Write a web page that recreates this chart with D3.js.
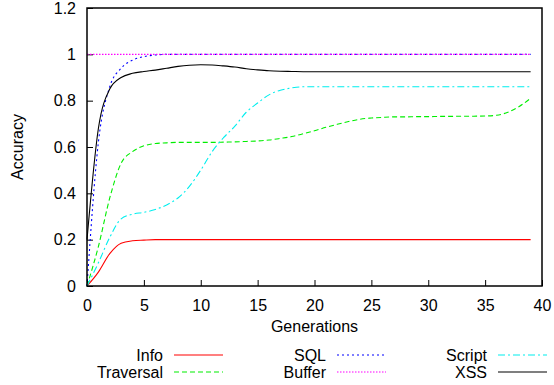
<!DOCTYPE html>
<html>
<head>
<meta charset="utf-8">
<script src="https://cdn.jsdelivr.net/npm/d3@7"></script>
<style>
  body { margin: 0; background: #fff; }
  text { font-family: "Liberation Sans", Arial, sans-serif; font-size: 16px; fill: #000; }
</style>
</head>
<body>
<div id="chart"></div>
<script>
(function() {
    "use strict";

    // generations 0..39
    var generations = d3.range(0, 40);

    var info = [0, 0.06, 0.14, 0.185, 0.195, 0.198, 0.2, 0.2, 0.2, 0.2,
        0.2, 0.2, 0.2, 0.2, 0.2, 0.2, 0.2, 0.2, 0.2, 0.2,
        0.2, 0.2, 0.2, 0.2, 0.2, 0.2, 0.2, 0.2, 0.2, 0.2,
        0.2, 0.2, 0.2, 0.2, 0.2, 0.2, 0.2, 0.2, 0.2, 0.2];
    var traversal = [0, 0.17, 0.38, 0.53, 0.58, 0.605, 0.615, 0.618, 0.62, 0.62,
        0.62, 0.62, 0.621, 0.622, 0.624, 0.626, 0.63, 0.637, 0.645, 0.657,
        0.67, 0.685, 0.698, 0.71, 0.72, 0.725, 0.728, 0.73, 0.73, 0.731,
        0.731, 0.732, 0.732, 0.733, 0.733, 0.734, 0.737, 0.75, 0.775, 0.81];
    var sql = [0, 0.62, 0.86, 0.94, 0.975, 0.99, 0.997, 1, 1, 1,
        1, 1, 1, 1, 1, 1, 1, 1, 1, 1,
        1, 1, 1, 1, 1, 1, 1, 1, 1, 1,
        1, 1, 1, 1, 1, 1, 1, 1, 1, 1];
    var buffer = [1, 1, 1, 1, 1, 1, 1, 1, 1, 1,
        1, 1, 1, 1, 1, 1, 1, 1, 1, 1,
        1, 1, 1, 1, 1, 1, 1, 1, 1, 1,
        1, 1, 1, 1, 1, 1, 1, 1, 1, 1];
    var script = [0, 0.1, 0.21, 0.29, 0.31, 0.318, 0.33, 0.35, 0.38, 0.43,
        0.5, 0.58, 0.64, 0.69, 0.75, 0.79, 0.825, 0.845, 0.855, 0.86,
        0.86, 0.86, 0.86, 0.86, 0.86, 0.86, 0.86, 0.86, 0.86, 0.86,
        0.86, 0.86, 0.86, 0.86, 0.86, 0.86, 0.86, 0.86, 0.86, 0.86];
    var xss = [0.2, 0.68, 0.85, 0.9, 0.918, 0.926, 0.932, 0.94, 0.948, 0.953,
        0.955, 0.954, 0.95, 0.945, 0.938, 0.933, 0.929, 0.927, 0.926, 0.925,
        0.925, 0.925, 0.925, 0.925, 0.925, 0.925, 0.925, 0.925, 0.925, 0.925,
        0.925, 0.925, 0.925, 0.925, 0.925, 0.925, 0.925, 0.925, 0.925, 0.925];

    var xTicks = [0, 5, 10, 15, 20, 25, 30, 35, 40];
    var yTicks = [0, 0.2, 0.4, 0.6, 0.8, 1, 1.2];

    var series = [
        { name: "Info", values: info, color: "#ff0000", dash: null },
        { name: "Traversal", values: traversal, color: "#00ee00", dash: "5,3" },
        { name: "SQL", values: sql, color: "#0000ff", dash: "2,3" },
        { name: "Buffer", values: buffer, color: "#ff00ff", dash: "1.5,1.5" },
        { name: "Script", values: script, color: "#00eeee", dash: "7,3,2,3" },
        { name: "XSS", values: xss, color: "#000000", dash: null }
    ];

    var W = 554, H = 385;
    var left = 87, right = 542, top = 8, bottom = 286;

    var svg = d3.select("#chart").append("svg")
        .attr("width", W).attr("height", H);

    var x = d3.scaleLinear().domain([0, 40]).range([left, right]);
    var y = d3.scaleLinear().domain([0, 1.2]).range([bottom, top]);

    // ticks, drawn inward
    var xAxis = svg.append("g").attr("transform", "translate(0," + bottom + ")")
        .call(d3.axisBottom(x).tickValues(xTicks).tickSize(-6).tickPadding(14)
            .tickFormat(d3.format("d")));
    var yAxis = svg.append("g").attr("transform", "translate(" + left + ",0)")
        .call(d3.axisLeft(y).tickValues(yTicks).tickSize(-6).tickPadding(11)
            .tickFormat(function(d) { return d3.format("~g")(d); }));
    [xAxis, yAxis].forEach(function(a) {
        a.select(".domain").remove();
        a.selectAll("line").attr("stroke", "#000").attr("stroke-width", 1);
        a.selectAll("text").style("font-size", "16px")
            .style("font-family", "'Liberation Sans', Arial, sans-serif");
    });

    var line = d3.line()
        .x(function(d, i) { return x(generations[i]); })
        .y(function(d) { return y(d); })
        .curve(d3.curveMonotoneX);

    series.forEach(function(s) {
        svg.append("path")
            .attr("d", line(s.values))
            .attr("fill", "none")
            .attr("stroke", s.color)
            .attr("stroke-width", 1.1)
            .attr("stroke-dasharray", s.dash);
    });

    // frame
    svg.append("rect")
        .attr("x", left).attr("y", top)
        .attr("width", right - left).attr("height", bottom - top)
        .attr("fill", "none").attr("stroke", "#000").attr("stroke-width", 1.5);

    svg.append("text")
        .attr("x", (left + right) / 2).attr("y", 332)
        .attr("text-anchor", "middle")
        .text("Generations");
    svg.append("text")
        .attr("transform", "translate(23,147) rotate(-90)")
        .attr("text-anchor", "middle")
        .text("Accuracy");

    // legend: 3 columns, 2 rows
    var colText = [163, 326, 487];
    var rowY = [355, 372];
    series.forEach(function(s, i) {
        var col = Math.floor(i / 2), row = i % 2;
        var g = svg.append("g");
        g.append("text")
            .attr("x", colText[col]).attr("y", rowY[row] + 6)
            .attr("text-anchor", "end")
            .text(s.name);
        g.append("line")
            .attr("x1", colText[col] + 11).attr("x2", colText[col] + 60)
            .attr("y1", rowY[row]).attr("y2", rowY[row])
            .attr("stroke", s.color)
            .attr("stroke-width", 1.1)
            .attr("stroke-dasharray", s.dash);
    });
}());
</script>
</body>
</html>
